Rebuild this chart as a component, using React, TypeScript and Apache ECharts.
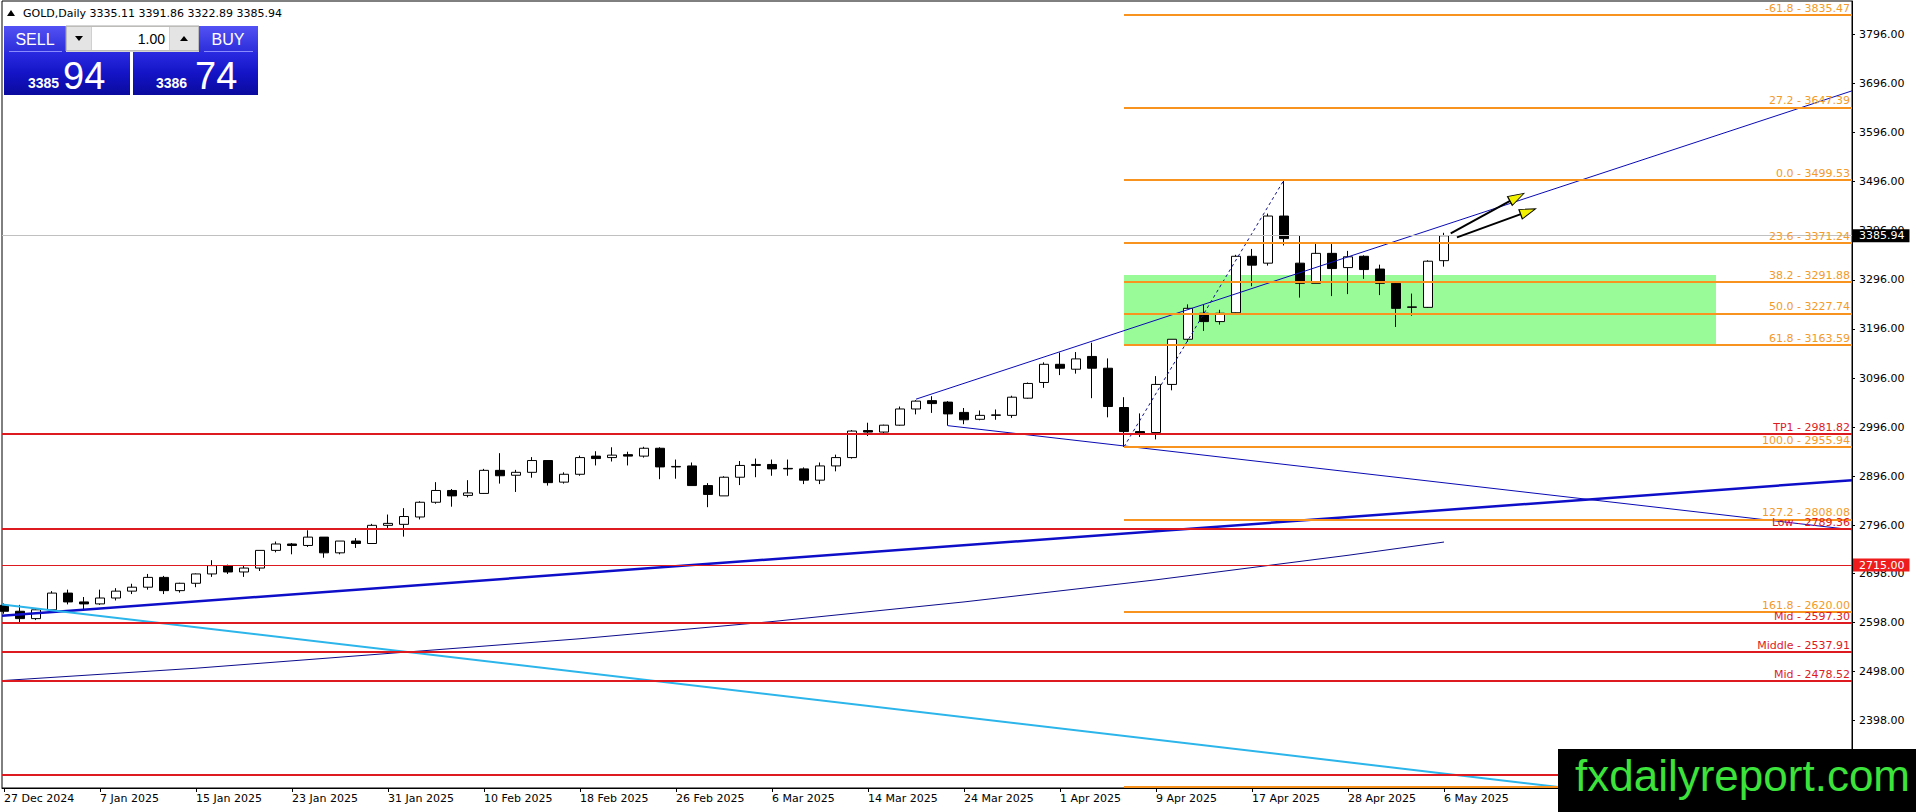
import React, { useEffect, useRef } from "react";
import * as echarts from "echarts";

// ---------- DATA ----------
const dates = ["27 Dec 2024","30 Dec 2024","31 Dec 2024","2 Jan 2025","3 Jan 2025","6 Jan 2025","7 Jan 2025","8 Jan 2025","9 Jan 2025","10 Jan 2025","13 Jan 2025","14 Jan 2025","15 Jan 2025","16 Jan 2025","17 Jan 2025","20 Jan 2025","21 Jan 2025","22 Jan 2025","23 Jan 2025","24 Jan 2025","27 Jan 2025","28 Jan 2025","29 Jan 2025","30 Jan 2025","31 Jan 2025","3 Feb 2025","4 Feb 2025","5 Feb 2025","6 Feb 2025","7 Feb 2025","10 Feb 2025","11 Feb 2025","12 Feb 2025","13 Feb 2025","14 Feb 2025","17 Feb 2025","18 Feb 2025","19 Feb 2025","20 Feb 2025","21 Feb 2025","24 Feb 2025","25 Feb 2025","26 Feb 2025","27 Feb 2025","28 Feb 2025","3 Mar 2025","4 Mar 2025","5 Mar 2025","6 Mar 2025","7 Mar 2025","10 Mar 2025","11 Mar 2025","12 Mar 2025","13 Mar 2025","14 Mar 2025","17 Mar 2025","18 Mar 2025","19 Mar 2025","20 Mar 2025","21 Mar 2025","24 Mar 2025","25 Mar 2025","26 Mar 2025","27 Mar 2025","28 Mar 2025","31 Mar 2025","1 Apr 2025","2 Apr 2025","3 Apr 2025","4 Apr 2025","7 Apr 2025","8 Apr 2025","9 Apr 2025","10 Apr 2025","11 Apr 2025","14 Apr 2025","15 Apr 2025","16 Apr 2025","17 Apr 2025","21 Apr 2025","22 Apr 2025","23 Apr 2025","24 Apr 2025","25 Apr 2025","28 Apr 2025","29 Apr 2025","30 Apr 2025","1 May 2025","2 May 2025","5 May 2025","6 May 2025"];

const opens = [2633,2621,2606,2624,2658,2640,2636,2648,2662,2670,
  2690,2663,2678,2697,2714,2701,2709,2745,2758,2755,
  2772,2740,2764,2759,2796,2798,2813,2843,2867,2857,
  2861,2908,2898,2904,2928,2884,2900,2937,2934,2940,
  2937,2953,2915,2917,2877,2856,2894,2918,2920,2912,
  2911,2888,2917,2934,2989,2986,3000,3033,3050,3047,
  3026,3012,3020,3020,3055,3087,3124,3114,3140,3116,
  3036,2987,2985,3083,3175,3228,3211,3229,3344,3330,
  3426,3330,3289,3350,3321,3344,3318,3289,3240,3240,
  3335.11];
const closes = [2621,2606,2624,2658,2640,2636,2648,2662,2670,2690,
  2663,2678,2697,2714,2701,2709,2745,2758,2755,2772,
  2740,2764,2759,2796,2800,2814,2843,2867,2856,2862,
  2908,2897,2904,2928,2883,2900,2934,2932,2939,2937,
  2953,2915,2916,2877,2859,2894,2918,2920,2911,2911,
  2888,2917,2934,2988,2986,3000,3033,3049,3044,3023,
  3011,3020,3021,3057,3085,3124,3116,3135,3116,3038,
  2987,2982,3083,3175,3238,3211,3228,3344,3326,3426,
  3380,3289,3350,3319,3343,3317,3289,3238,3241,3334,
  3385.94];
const highs = [2637,2634,2627,2662,2665,2650,2665,2668,2677,2697,
  2693,2679,2698,2725,2716,2714,2745,2763,2760,2786,
  2772,2764,2770,2799,2818,2831,2845,2884,2870,2888,
  2911,2943,2909,2935,2929,2904,2938,2947,2955,2946,
  2956,2955,2930,2924,2882,2896,2927,2932,2930,2930,
  2914,2924,2940,2990,3005,3001,3038,3051,3059,3049,
  3035,3030,3032,3060,3087,3128,3148,3149,3168,3136,
  3057,3024,3100,3175,3246,3245,3235,3347,3359,3431,
  3499.53,3387,3369,3372,3355,3346,3327,3290,3268,3336,
  3391.86];
const lows = [2616,2597,2603,2624,2635,2622,2634,2643,2656,2665,
  2656,2659,2670,2691,2697,2691,2703,2741,2737,2752,
  2730,2737,2750,2759,2790,2773,2808,2840,2834,2853,
  2860,2881,2864,2893,2877,2881,2897,2918,2926,2918,
  2934,2890,2891,2877,2833,2856,2878,2894,2897,2897,
  2880,2880,2906,2932,2978,2982,2999,3022,3025,2999,
  3002,3010,3011,3015,3054,3076,3102,3105,3055,3016,
  2955.94,2976,2971,3071,3170,3192,3205,3225,3283,3325,
  3366,3260,3289,3263,3267,3298,3265,3200,3223,3239,
  3322.89];

const headerText = "GOLD,Daily 3335.11 3391.86 3322.89 3385.94";
const sellPrice = ["3385", "94"];
const buyPrice = ["3386", "74"];
const lotSize = "1.00";

const priceTicks = [3796, 3696, 3596, 3496, 3396, 3296, 3196, 3096, 2996, 2896, 2796, 2698, 2598, 2498, 2398, 2298];
const dateTickIdx = [0, 6, 12, 18, 24, 30, 36, 42, 48, 54, 60, 66, 72, 78, 84, 90];

const fibStartIdx = 70;
const fibLevels = [3835.47, 3647.39, 3499.53, 3371.24, 3291.88, 3227.74, 3163.59, 2955.94, 2808.08, 2620.0, 2264.52];
const fibRatios = ["-61.8", "27.2", "0.0", "23.6", "38.2", "50.0", "61.8", "100.0", "127.2", "161.8", ""];

const redLevels = [2981.82, 2789.36, 2597.3, 2537.91, 2478.52, 2289.0];
const redNames = ["TP1", "Low", "Mid", "Middle", "Mid", ""];

const alertLevel = 2715.0;
const currentPrice = 3385.94;

const greenZone = [[70, 3306], [107, 3163.59]];

const smaPoints = [[0, 2480], [12, 2505], [24, 2535], [36, 2565], [48, 2600], [60, 2640], [72, 2685], [84, 2735], [90, 2762]];
const upperChannel = [[57, 3053], [115.5, 3681]];
const lowerChannel = [[59, 2999], [115.5, 2787]];
const risingSupport = [[-0.125, 2612], [115.5, 2888]];
const cyanLine = [[-0.125, 2635], [115.5, 2193]];
const fibDiagonal = [[70, 2955.94], [80, 3499.53]];

const arrowTails = [[90.42, 3390.7], [90.81, 3382.6]];
const arrowHeads = [[94.56, 3464.4], [95.26, 3435.3]];
const arrowAngles = [-61.4, -70];

// ---------- STYLE ----------
const FONT = "'DejaVu Sans', Verdana, sans-serif";
const PFONT = "'Liberation Sans', Arial, sans-serif";
const NFONT = "'Liberation Sans Narrow', 'Liberation Sans', Arial, sans-serif";
const ORANGE = "#F7931E";
const ORANGE_TXT = "#F39A2A";
const RED = "#DD1A1F";
const X_MIN = -0.125;
const X_MAX = 115.5;

function buildOption() {
  const candles = dates.map((_, i) => [i, opens[i], closes[i], lows[i], highs[i]]);

  const fibMarks = fibLevels.map((lv, k) => [
    {
      coord: [fibStartIdx, lv],
      lineStyle: { color: ORANGE, width: 2, type: "solid" },
      label: fibRatios[k]
        ? { show: true, position: "insideEndTop", formatter: `${fibRatios[k]} - ${lv.toFixed(2)}`, color: ORANGE_TXT, fontSize: 11, fontFamily: FONT, distance: [2, 1] }
        : { show: false },
    },
    { coord: [X_MAX, lv] },
  ]);

  const redMarks = redLevels.map((lv, k) => ({
    yAxis: lv,
    lineStyle: { color: RED, width: 2, type: "solid" },
    label: redNames[k]
      ? { show: true, position: "insideEndTop", formatter: `${redNames[k]} - ${lv.toFixed(2)}`, color: RED, fontSize: 11, fontFamily: FONT, distance: [2, 1] }
      : { show: false },
  }));

  const boxLabel = (txt: string, bg: string) => ({
    show: true, position: "end", formatter: txt, color: "#fff", backgroundColor: bg,
    padding: [1, 5, 0, 6], fontSize: 11, lineHeight: 12, fontFamily: FONT, distance: 1,
  });

  const line = (data: number[][], color: string, width: number, type: any = "solid", z = 4) => ({
    type: "line", data, symbol: "none", showSymbol: false, silent: true, animation: false, clip: true,
    lineStyle: { color, width, type }, z,
  });

  const hdrGrad = { type: "linear", x: 0, y: 0, x2: 0, y2: 1, colorStops: [{ offset: 0, color: "#5252F4" }, { offset: 1, color: "#2D2DDA" }] };
  const bigGrad = { type: "linear", x: 0, y: 0, x2: 0, y2: 1, colorStops: [{ offset: 0, color: "#2A2AE2" }, { offset: 0.5, color: "#1414C6" }, { offset: 1, color: "#0A0A9E" }] };

  const graphic: any[] = [
    { type: "polygon", z: 50, shape: { points: [[7, 16], [15, 16], [11, 10]] }, style: { fill: "#000" } },
    { type: "text", z: 50, x: 23, y: 13, style: { text: headerText, fill: "#000", font: `11px ${FONT}`, align: "left", verticalAlign: "middle", textAlign: "left", textVerticalAlign: "middle" } },
    { type: "rect", z: 50, shape: { x: 4, y: 26, width: 62, height: 26 }, style: { fill: hdrGrad } },
    { type: "line", z: 51, shape: { x1: 9, y1: 51.5, x2: 62, y2: 51.5 }, style: { stroke: "#8A8AFF", lineWidth: 1 } },
    { type: "text", z: 52, x: 35, y: 39, style: { text: "SELL", fill: "#fff", font: `16px ${NFONT}`, align: "center", verticalAlign: "middle", textAlign: "center", textVerticalAlign: "middle" } },
    { type: "rect", z: 50, shape: { x: 66, y: 26, width: 133, height: 25 }, style: { fill: "#D4D0C8", stroke: "#A8A8A8", lineWidth: 1 } },
    { type: "rect", z: 51, shape: { x: 67, y: 27, width: 24, height: 23 }, style: { fill: "#E4E4E4" } },
    { type: "rect", z: 51, shape: { x: 92, y: 27, width: 77, height: 23 }, style: { fill: "#FFFFFF" } },
    { type: "rect", z: 51, shape: { x: 170, y: 27, width: 28, height: 23 }, style: { fill: "#E4E4E4" } },
    { type: "polygon", z: 52, shape: { points: [[75, 36], [83, 36], [79, 41]] }, style: { fill: "#000" } },
    { type: "polygon", z: 52, shape: { points: [[180, 41], [188, 41], [184, 36]] }, style: { fill: "#000" } },
    { type: "text", z: 52, x: 165, y: 39, style: { text: lotSize, fill: "#000", font: `14px ${PFONT}`, align: "right", verticalAlign: "middle", textAlign: "right", textVerticalAlign: "middle" } },
    { type: "rect", z: 50, shape: { x: 199, y: 26, width: 59, height: 26 }, style: { fill: hdrGrad } },
    { type: "line", z: 51, shape: { x1: 204, y1: 51.5, x2: 253, y2: 51.5 }, style: { stroke: "#8A8AFF", lineWidth: 1 } },
    { type: "text", z: 52, x: 228, y: 39, style: { text: "BUY", fill: "#fff", font: `16px ${NFONT}`, align: "center", verticalAlign: "middle", textAlign: "center", textVerticalAlign: "middle" } },
    { type: "rect", z: 50, shape: { x: 4, y: 52, width: 126, height: 43 }, style: { fill: bigGrad } },
    { type: "rect", z: 50, shape: { x: 133, y: 52, width: 125, height: 43 }, style: { fill: bigGrad } },
    { type: "text", z: 52, x: 28, y: 83, style: { text: sellPrice[0], fill: "#fff", font: `bold 14px ${PFONT}`, align: "left", verticalAlign: "middle", textAlign: "left", textVerticalAlign: "middle" } },
    { type: "text", z: 52, x: 63, y: 75.5, style: { text: sellPrice[1], fill: "#fff", font: `38px ${PFONT}`, align: "left", verticalAlign: "middle", textAlign: "left", textVerticalAlign: "middle" } },
    { type: "text", z: 52, x: 156, y: 83, style: { text: buyPrice[0], fill: "#fff", font: `bold 14px ${PFONT}`, align: "left", verticalAlign: "middle", textAlign: "left", textVerticalAlign: "middle" } },
    { type: "text", z: 52, x: 195, y: 75.5, style: { text: buyPrice[1], fill: "#fff", font: `38px ${PFONT}`, align: "left", verticalAlign: "middle", textAlign: "left", textVerticalAlign: "middle" } },
    { type: "rect", z: 100, shape: { x: 1558, y: 749, width: 358, height: 63 }, style: { fill: "#000" } },
    { type: "text", z: 101, x: 1575, y: 775, style: { text: "fxdailyreport.com", fill: "#3BE33B", font: `44px ${PFONT}`, align: "left", verticalAlign: "middle", textAlign: "left", textVerticalAlign: "middle" } },
  ];

  return {
    animation: false,
    backgroundColor: "#ffffff",
    textStyle: { fontFamily: FONT },
    grid: { left: 2, top: 1, right: 64, bottom: 24, show: true, borderColor: "#000", borderWidth: 1, backgroundColor: "transparent", containLabel: false, outerBoundsMode: "none" },
    xAxis: {
      type: "value", min: X_MIN, max: X_MAX,
      axisLine: { show: true, onZero: false, lineStyle: { color: "#000", width: 1 } },
      axisTick: { show: true, customValues: dateTickIdx, length: 4, lineStyle: { color: "#000" } },
      axisLabel: { show: true, customValues: dateTickIdx, formatter: (v: number) => dates[Math.round(v)] ?? "", align: "left", margin: 5, color: "#000", fontSize: 11, fontFamily: FONT },
      splitLine: { show: false },
    },
    yAxis: {
      type: "value", position: "right", min: 2261, max: 3864,
      axisLine: { show: true, onZero: false, lineStyle: { color: "#000", width: 1 } },
      axisTick: { show: true, customValues: priceTicks, length: 3, lineStyle: { color: "#000" } },
      axisLabel: { show: true, customValues: priceTicks, formatter: (v: number) => v.toFixed(2), margin: 7, color: "#000", fontSize: 11, fontFamily: FONT },
      splitLine: { show: false },
    },
    graphic,
    series: [
      {
        type: "candlestick",
        data: candles,
        encode: { x: 0, y: [1, 2, 3, 4] },
        barWidth: 10,
        z: 3,
        silent: true,
        itemStyle: { color: "#ffffff", color0: "#000000", borderColor: "#000000", borderColor0: "#000000", borderWidth: 1 },
        markArea: {
          silent: true,
          itemStyle: { color: "#98FB98", opacity: 1 },
          label: { show: false },
          data: [[{ coord: greenZone[0] }, { coord: greenZone[1] }]],
        },
        markLine: {
          silent: true, symbol: ["none", "none"], animation: false,
          data: [
            { yAxis: currentPrice, lineStyle: { color: "#C0C0C0", width: 1, type: "solid" }, label: boxLabel(currentPrice.toFixed(2), "#000000") },
            { yAxis: alertLevel, lineStyle: { color: RED, width: 1, type: "solid" }, label: boxLabel(alertLevel.toFixed(2), "#EE1C1C") },
            ...redMarks,
            ...fibMarks,
          ],
        },
      },
      line(smaPoints, "#0C0C8C", 1),
      line(upperChannel, "#0A0AB4", 1),
      line(lowerChannel, "#0A0AB4", 1),
      line(risingSupport, "#0E0EC8", 2.5),
      line(cyanLine, "#2BB5EA", 2),
      line(fibDiagonal, "#10108A", 1, [3, 3]),
      line([arrowTails[0], arrowHeads[0]], "#000000", 2, "solid", 6),
      line([arrowTails[1], arrowHeads[1]], "#000000", 2, "solid", 6),
      {
        type: "scatter", silent: true, z: 7, animation: false,
        symbol: "triangle", symbolSize: [10, 16],
        itemStyle: { color: "#F2F200", borderColor: "#000", borderWidth: 1, opacity: 1 },
        data: arrowHeads.map((p, k) => ({ value: p, symbolRotate: arrowAngles[k] })),
      },
    ],
  };
}

export default function App() {
  const ref = useRef<HTMLDivElement>(null);
  useEffect(() => {
    document.body.style.margin = "0";
    const chart = echarts.init(ref.current as HTMLDivElement, null, { renderer: "svg" });
    chart.setOption(buildOption() as any);
    return () => chart.dispose();
  }, []);
  return <div ref={ref} style={{ width: 1916, height: 812, position: "absolute", left: 0, top: 0, background: "#fff" }} />;
}
